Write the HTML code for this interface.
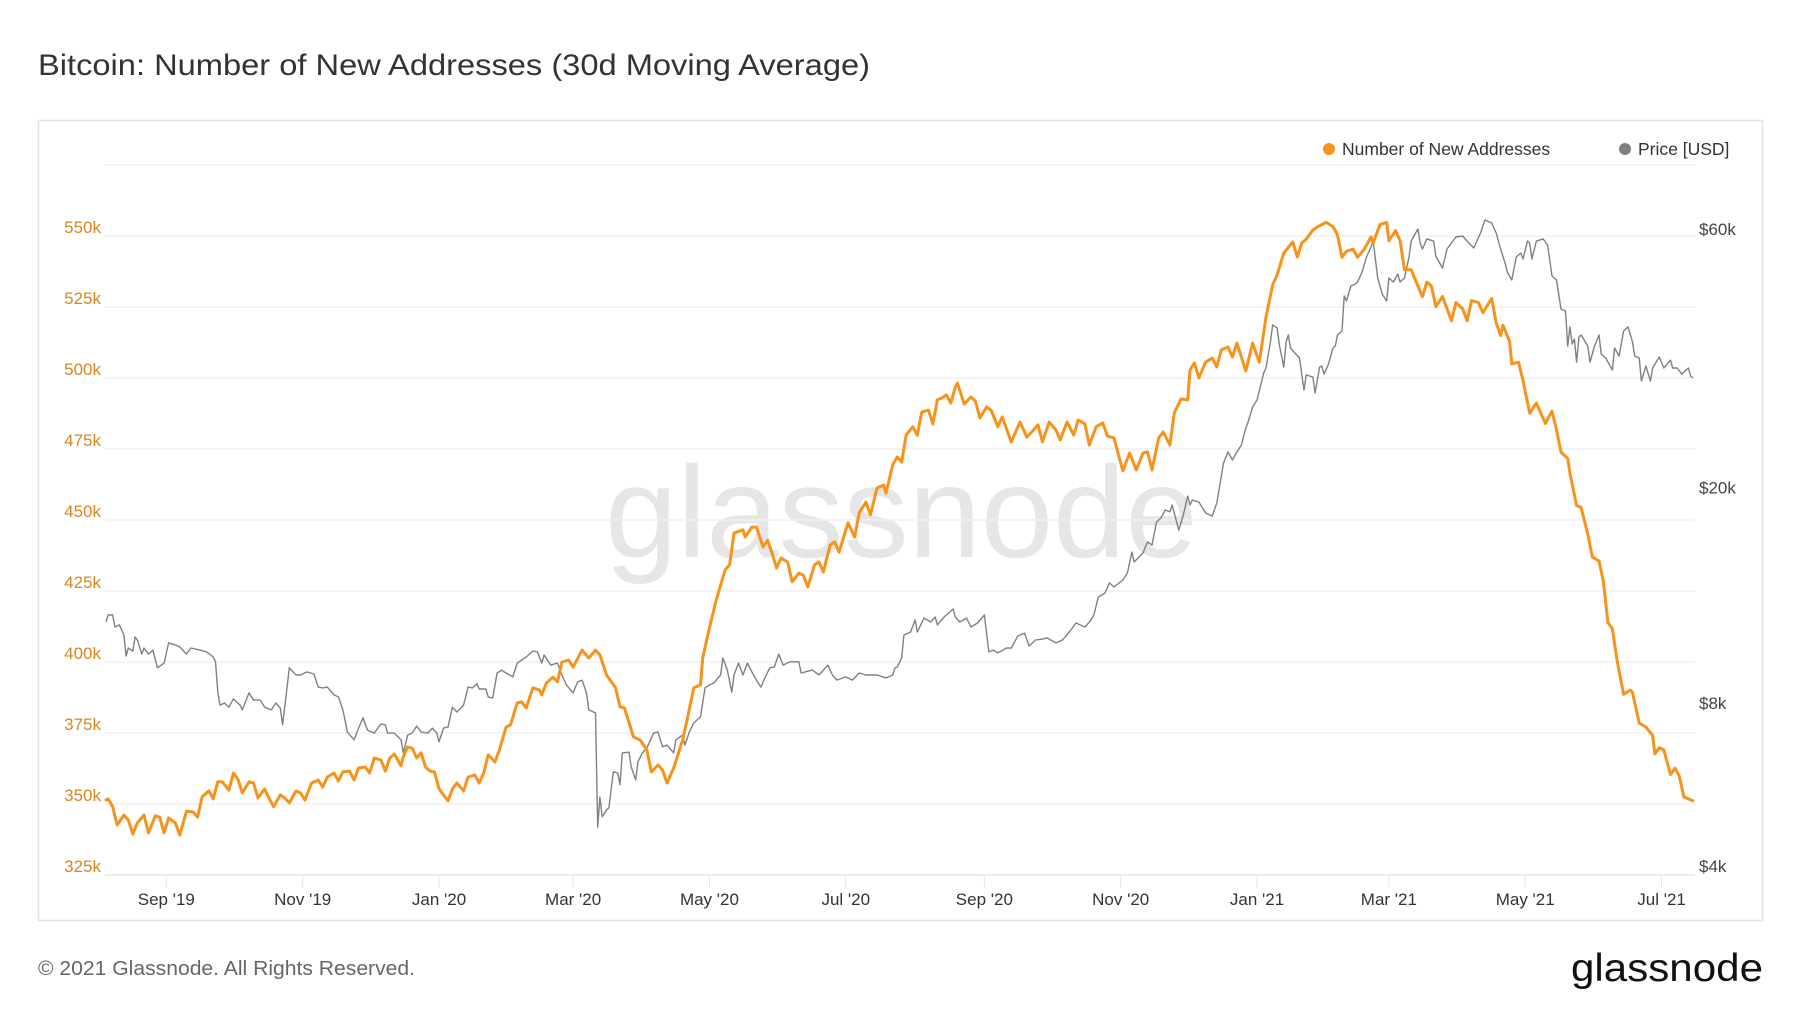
<!DOCTYPE html>
<html>
<head>
<meta charset="utf-8">
<style>
  html,body{margin:0;padding:0;background:#fff;}
  body{width:1800px;height:1013px;overflow:hidden;font-family:"Liberation Sans",sans-serif;}
  svg text{font-family:"Liberation Sans",sans-serif;}
</style>
</head>
<body>
<svg id="chart" width="1800" height="1013" viewBox="0 0 1800 1013" xmlns="http://www.w3.org/2000/svg">
  <text x="38" y="75" font-size="30" fill="#333" textLength="832" lengthAdjust="spacingAndGlyphs">Bitcoin: Number of New Addresses (30d Moving Average)</text>
  <rect x="38.5" y="120.5" width="1724" height="800" fill="#fff" stroke="#e3e3e3" stroke-width="1.5"/>
  <text x="605" y="557" font-size="130" fill="#e6e6e6">glassnode</text>
  <g id="grid"></g>
  <g id="ticks"></g>
  <g id="leftAxis"></g>
  <g id="rightAxis"></g>
  <path id="pricePath" fill="none" stroke="#808080" stroke-width="1.4" stroke-linejoin="round"/>
  <path id="addrPath" fill="none" stroke="#f7931a" stroke-width="3" stroke-linejoin="round" stroke-linecap="round"/>
  <g>
    <g>
      <circle cx="1329" cy="149" r="6" fill="#f7931a"/>
      <text x="1342" y="155" font-size="17.5" fill="#333">Number of New Addresses</text>
    </g>
    <g>
      <circle cx="1625" cy="149" r="6" fill="#808080"/>
      <text x="1638" y="155" font-size="17.5" fill="#333">Price [USD]</text>
    </g>
  </g>
  <text x="38" y="975" font-size="20" fill="#666" textLength="377" lengthAdjust="spacingAndGlyphs">© 2021 Glassnode. All Rights Reserved.</text>
  <text x="1571" y="981" font-size="39" fill="#111" textLength="192" lengthAdjust="spacingAndGlyphs">glassnode</text>
</svg>
<script>
// ---- data ----
// day offsets from 2019-08-05
const addrDays = [0,1,3,5,8,10,12,14,17,19,22,24,26,28,31,33,36,39,41,43,46,48,50,52,55,57,59,61,64,66,68,71,72,75,78,80,82,85,87,89,92,95,97,99,102,104,106,109,111,113,116,118,120,123,125,127,129,132,133,135,137,139,141,143,145,147,149,153,155,157,160,162,165,167,169,171,174,176,179,181,184,
186,188,191,194,195,197,200,202,204,207,209,213,216,219,221,224,228,230,232,236,239,242,244,247,249,251,254,258,260,263,266,267,270,273,277,279,281,285,286,289,291,294,296,298,300,302,305,307,310,312,314,317,319,321,324,326,328,332,335,337,340,342,345,348,349,352,354,356,358,
361,363,365,368,370,372,374,376,378,380,381,384,387,389,391,394,396,399,401,405,409,412,415,417,419,422,425,427,430,433,435,438,440,443,446,448,451,453,455,458,461,464,466,468,471,473,476,478,481,484,485,487,489,492,495,497,499,502,504,506,510,513,516,519,522,524,527,531,533,535,537,540,542,
544,546,549,551,553,555,558,560,563,566,567,570,573,574,577,579,581,584,587,589,591,593,595,598,602,604,607,609,611,614,616,620,622,624,625,628,629,632,634,637,640,644,647,649,651,654,655,658,660,663,665,668,670,672,674,676,679,682,683,686,689,692,693,695,697,700,702,704,706,708,710];
// new addresses, thousands
const addrValues = [351.4,351.8,349.0,342.6,346.1,344.4,339.4,343.3,346.1,339.8,345.8,345.4,339.8,345.1,343.3,339.1,347.5,347.2,345.4,352.5,354.6,351.8,357.8,357.8,354.9,360.9,358.8,353.9,357.8,357.4,352.1,355.3,353.5,349.0,353.2,352.1,350.4,354.6,353.9,351.4,357.4,358.4,356.0,359.5,360.9,358.1,361.3,361.6,358.4,362.7,363.0,360.9,366.2,365.5,361.6,366.2,367.6,363.4,366.6,370.1,369.7,366.2,368.0,363.0,361.6,361.3,355.3,351.1,355.3,357.4,354.6,359.5,360.2,357.4,360.9,367.3,364.8,369.0,377.1,377.8,385.6,
385.9,383.8,390.9,390.1,388.4,392.6,394.7,393.0,400.0,400.7,398.2,404.2,401.4,404.2,402.5,395.4,390.9,384.2,383.8,373.6,372.5,369.0,361.3,363.7,362.0,357.4,362.7,372.5,379.6,390.9,391.9,401.4,412.0,421.8,432.4,434.2,445.4,446.5,444.0,447.5,447.5,440.5,442.9,438.4,433.1,436.6,435.2,428.2,431.3,430.6,426.4,434.2,435.2,431.7,441.2,442.3,438.7,449.0,444.0,452.5,456.3,451.8,461.3,462.3,459.5,469.4,472.2,470.4,479.9,
482.8,479.9,488.0,488.7,483.8,492.3,493.0,494.0,491.2,496.8,498.2,490.8,493.3,491.9,485.9,489.8,488.7,482.8,486.3,477.5,484.5,479.2,481.7,483.5,477.5,484.5,481.7,478.2,484.5,479.9,485.2,483.8,476.4,482.8,484.2,479.6,478.9,472.9,467.3,473.6,467.6,473.6,474.0,467.6,478.9,481.0,476.4,487.7,492.6,492.3,502.8,505.3,500.0,505.6,507.0,503.9,509.9,510.9,507.4,512.3,502.5,512.3,505.6,521.5,532.8,536.3,544.0,547.9,542.6,547.5,548.9,552.1,553.2,
554.0,554.8,553.3,550.4,542.5,544.6,545.4,542.5,545.4,549.7,547.5,554.0,554.8,548.3,551.9,548.3,538.1,538.1,532.4,528.7,533.8,532.4,525.1,528.7,520.1,526.6,524.4,520.1,527.3,526.6,523.0,528.0,519.4,515.0,518.6,512.9,504.9,505.6,499.1,487.6,491.2,484.0,488.3,481.8,473.9,471.7,466.6,455.1,454.4,445.0,437.0,435.6,428.3,413.9,411.7,400.9,388.6,390.1,389.3,378.5,377.1,374.2,367.7,369.8,369.1,360.4,362.6,359.7,352.5,351.8,351.1];
const priceDays = [0,1,3,4,6,8,9,10,12,13,14,16,17,19,21,23,26,28,31,33,36,38,42,45,48,49,50,51,53,55,57,60,61,64,66,69,71,74,76,78,79,81,82,85,87,90,93,95,97,99,102,104,106,108,111,113,115,117,120,123,125,126,129,132,133,135,137,139,141,144,146,148,149,151,153,155,157,160,162,164,166,167,170,171,173,175,177,179,182,184,
188,191,193,195,196,199,202,204,206,209,211,213,215,216,219,220,221,222,224,225,227,229,230,231,234,235,237,238,240,242,245,247,249,251,254,255,258,259,261,263,266,268,270,272,275,276,278,280,281,283,285,287,289,291,293,295,297,299,301,303,306,310,311,316,319,323,325,327,331,334,337,340,345,349,352,353,354,356,357,360,362,
363,366,369,371,372,375,379,380,382,385,387,390,393,395,397,399,403,405,408,411,413,416,419,421,425,428,431,434,438,440,442,444,447,449,451,455,457,459,460,464,466,468,470,472,474,476,477,480,482,484,485,486,489,492,495,497,498,500,502,504,506,508,510,511,513,515,517,518,519,521,522,524,525,527,528,529,530,532,534,536,537,540,541,543,
544,545,547,549,550,551,553,554,555,557,559,560,562,564,566,567,569,571,573,574,576,578,579,581,583,584,587,588,589,591,594,595,598,600,604,607,609,612,615,617,620,622,624,626,627,629,631,633,634,636,637,638,640,643,645,647,649,651,653,654,655,656,657,658,659,660,663,664,666,668,669,671,674,675,677,679,681,683,684,686,687,689,691,692,695,697,700,701,703,705,708,709,710];
// price, USD
const priceValues = [11290,11630,11630,11050,11150,10680,9770,10110,9980,10590,10460,9850,10110,9850,10020,9290,9480,10330,10240,10150,9850,10110,10020,9940,9730,9530,8380,7930,8000,7860,8140,7930,7770,8350,8100,8100,7860,7770,8000,7830,7290,8530,9290,9010,9010,9130,9050,8560,8530,8560,8280,8210,7770,7070,6840,7190,7510,7130,7040,7320,7290,7040,7040,6840,6470,6980,7040,7250,7070,7040,7190,7040,6780,7190,7220,7860,7700,7930,8560,8530,8680,8490,8490,8210,8170,9090,9200,9090,8940,9480,
9730,9980,9940,9480,9810,9400,9480,9010,8640,8350,8750,8820,8350,7770,7670,4720,5360,4930,5080,5120,5970,5940,5650,6470,6490,6090,5770,6230,6470,6610,7040,7070,6640,6690,6470,6840,6980,6690,7070,7350,7540,8530,8640,8710,9010,9690,9200,8380,9010,9480,9010,9480,9130,8820,8560,8940,9290,9320,9850,9400,9530,9530,9090,9200,9010,9400,9010,8820,8940,8820,9090,9010,9010,8900,9010,9290,9320,9690,10680,10820,11390,
10820,11480,11290,11530,11150,11530,11930,11530,11290,11480,11050,11240,11630,9940,10020,9900,10110,10110,10640,10770,10200,10460,10500,10550,10330,10460,10820,11240,11050,11290,11630,12550,12770,13330,13100,13500,13910,15200,14570,15140,15870,15660,17270,17570,18180,18030,18570,16690,17790,19290,18570,18960,18810,17950,17720,18730,19790,22200,23260,22480,23260,23960,25760,26430,28170,29020,31320,32560,33250,37140,39930,39430,36650,33380,37140,38260,36200,35430,34700,30270,32270,32000,29900,33380,
33530,32400,33820,36200,36510,38260,38910,45170,44200,47120,47530,47930,50010,53300,55630,57040,48750,45540,44200,48750,47930,49590,47930,48750,53300,57040,60050,56570,55150,57560,57040,53510,50870,55150,58040,58290,57040,55380,59020,62390,61600,59020,55150,51950,50010,48340,53300,54220,52860,57040,56570,52860,57040,57560,56100,49170,48340,42720,42370,36510,39590,36820,37610,34110,37930,38260,36510,34110,36510,38260,35290,34700,32970,36200,34990,38910,39590,37140,34990,34700,31450,33530,31450,33250,34840,33250,34390,33250,33250,32400,33250,32140,31870];
const leftTicks = [325,350,375,400,425,450,475,500,525,550,575];
const leftTickLabels = ["325k","350k","375k","400k","425k","450k","475k","500k","525k","550k",""];
const rightTicks = [4000,8000,20000,60000];
const rightTickLabels = ["$4k","$8k","$20k","$60k"];
const xTickDays = [27,88,149,209,270,331,393,454,515,574,635,696];
const xTickLabels = ["Sep '19","Nov '19","Jan '20","Mar '20","May '20","Jul '20","Sep '20","Nov '20","Jan '21","Mar '21","May '21","Jul '21"];

// ---- scales ----
const X0 = 106, PX_PER_DAY = 2.235;
const xOf = d => X0 + d * PX_PER_DAY;
const yL = v => 236 + (550 - v) / 25 * 71.0;
const yR = p => 866 - Math.log2(p / 4000) * 163;
const NS = "http://www.w3.org/2000/svg";

const grid = document.getElementById('grid');
leftTicks.forEach((t, i) => {
  const y = yL(t);
  const ln = document.createElementNS(NS, 'line');
  ln.setAttribute('x1', 105); ln.setAttribute('x2', 1695);
  ln.setAttribute('y1', y); ln.setAttribute('y2', y);
  ln.setAttribute('stroke', i === 0 ? '#e6e6e6' : '#f0f0f0');
  ln.setAttribute('stroke-width', 1.5);
  
  
  grid.appendChild(ln);
  if (leftTickLabels[i]) {
    const tx = document.createElementNS(NS, 'text');
    tx.setAttribute('x', 101); tx.setAttribute('y', y - 3);
    tx.setAttribute('text-anchor', 'end');
    tx.setAttribute('font-size', '17');
    tx.setAttribute('fill', '#d9861c');
    tx.textContent = leftTickLabels[i];
    
    
    document.getElementById('leftAxis').appendChild(tx);
  }
});
rightTicks.forEach((t, i) => {
  const tx = document.createElementNS(NS, 'text');
  tx.setAttribute('x', 1699); tx.setAttribute('y', yR(t) + 6);
  tx.setAttribute('font-size', '17');
  tx.setAttribute('fill', '#444');
  tx.textContent = rightTickLabels[i];
  
  
  document.getElementById('rightAxis').appendChild(tx);
});
const ticks = document.getElementById('ticks');
xTickDays.forEach((d, i) => {
  const x = xOf(d);
  const ln = document.createElementNS(NS, 'line');
  ln.setAttribute('x1', x); ln.setAttribute('x2', x);
  ln.setAttribute('y1', 875); ln.setAttribute('y2', 888);
  ln.setAttribute('stroke', '#e6e6e6'); ln.setAttribute('stroke-width', 1);
  
  
  ticks.appendChild(ln);
  const tx = document.createElementNS(NS, 'text');
  tx.setAttribute('x', x); tx.setAttribute('y', 905);
  tx.setAttribute('text-anchor', 'middle');
  tx.setAttribute('font-size', '17');
  tx.setAttribute('fill', '#333');
  tx.textContent = xTickLabels[i];
  
  
  ticks.appendChild(tx);
});

function buildPath(days, vals, yf) {
  const n = Math.min(days.length, vals.length);
  let s = '';
  for (let i = 0; i < n; i++) {
    s += (i ? 'L' : 'M') + xOf(days[i]).toFixed(1) + ' ' + yf(vals[i]).toFixed(1);
  }
  return s;
}
document.getElementById('pricePath').setAttribute('d', buildPath(priceDays, priceValues, yR));
document.getElementById('addrPath').setAttribute('d', buildPath(addrDays, addrValues, yL));
</script>
</body>
</html>
